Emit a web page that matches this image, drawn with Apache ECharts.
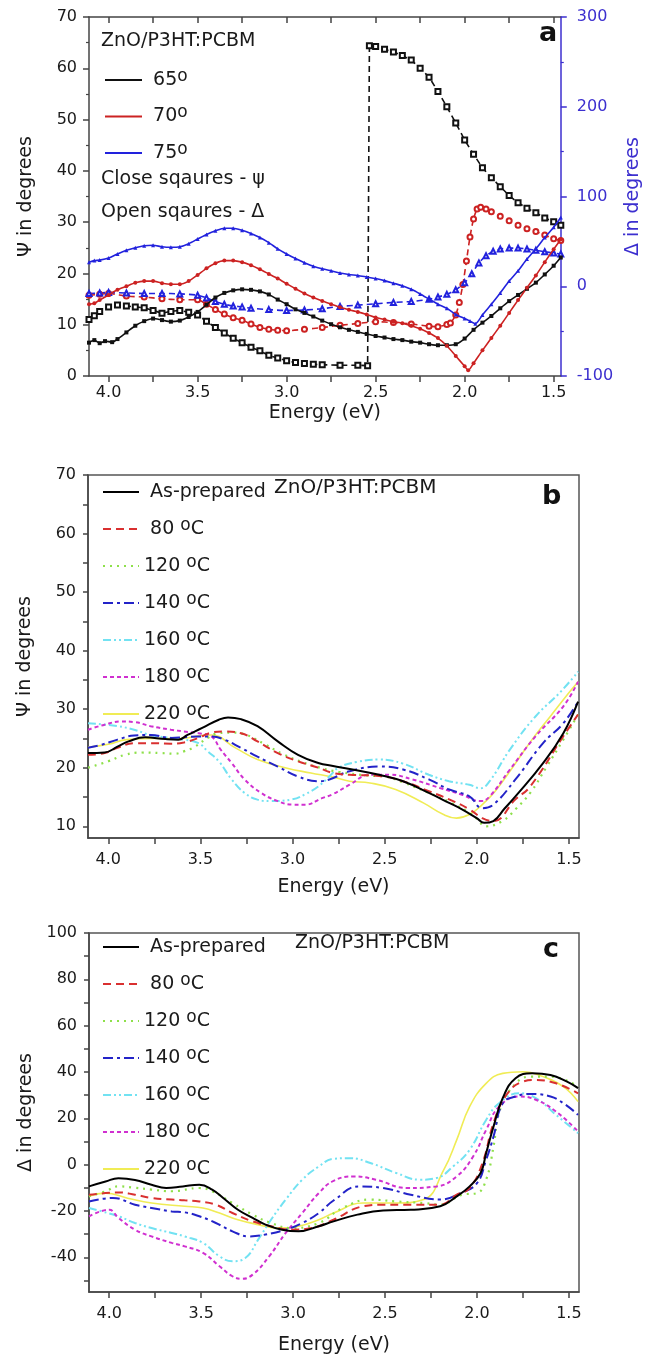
<!DOCTYPE html>
<html><head><meta charset="utf-8">
<script src="https://cdn.jsdelivr.net/npm/echarts@6/dist/echarts.min.js"></script>
<style>html,body{margin:0;padding:0;background:#fff}#c{width:651px;height:1362px}</style>
</head><body><div id="c"></div>
<script>
// ---------- tick labels ----------
const eLabels = [1.5, 2.0, 2.5, 3.0, 3.5, 4.0];
const eTicks = [1.5, 1.75, 2.0, 2.25, 2.5, 2.75, 3.0, 3.25, 3.5, 3.75, 4.0];
const bLabels = [10, 20, 30, 40, 50, 60, 70];
const bTicks = [10, 15, 20, 25, 30, 35, 40, 45, 50, 55, 60, 65, 70];
const cLabels = [-40, -20, 0, 20, 40, 60, 80, 100];
const cTicks = [-50, -40, -30, -20, -10, 0, 10, 20, 30, 40, 50, 60, 70, 80, 90, 100];

// ---------- panel a : angles ----------
const anglesA = ['65', '70', '75'];
const psi65 = [[4.11,6.5],[4.08,7.0],[4.05,6.4],[4.02,6.8],[3.98,6.6],[3.95,7.2],[3.9,8.5],[3.85,9.8],[3.8,10.7],[3.75,11.2],[3.7,10.9],[3.65,10.6],[3.6,10.8],[3.55,11.5],[3.5,12.5],[3.45,13.9],[3.4,15.3],[3.35,16.2],[3.3,16.7],[3.25,16.9],[3.2,16.8],[3.15,16.5],[3.1,15.9],[3.05,14.9],[3.0,14.0],[2.95,13.0],[2.9,12.3],[2.85,11.6],[2.8,10.8],[2.75,10.1],[2.7,9.5],[2.65,9.0],[2.6,8.6],[2.55,8.2],[2.5,7.8],[2.45,7.5],[2.4,7.2],[2.35,7.0],[2.3,6.7],[2.25,6.5],[2.2,6.2],[2.15,6.0],[2.1,6.0],[2.05,6.2],[2.0,7.3],[1.95,9.0],[1.9,10.4],[1.85,11.7],[1.8,13.2],[1.75,14.6],[1.7,15.8],[1.65,17.0],[1.6,18.2],[1.55,19.8],[1.5,21.5],[1.46,23.1]];
const psi70 = [[4.11,14.0],[4.08,14.2],[4.05,14.8],[4.0,15.8],[3.95,16.8],[3.9,17.5],[3.85,18.2],[3.8,18.5],[3.75,18.5],[3.7,18.1],[3.65,17.9],[3.6,17.9],[3.55,18.5],[3.5,19.7],[3.45,21.0],[3.4,22.0],[3.35,22.5],[3.3,22.5],[3.25,22.2],[3.2,21.6],[3.15,20.8],[3.1,19.9],[3.05,19.0],[3.0,18.0],[2.95,17.0],[2.9,16.1],[2.85,15.3],[2.8,14.6],[2.75,14.0],[2.7,13.4],[2.65,12.9],[2.6,12.5],[2.55,12.0],[2.5,11.4],[2.45,11.0],[2.4,10.6],[2.35,10.3],[2.3,9.8],[2.25,9.2],[2.2,8.4],[2.15,7.4],[2.1,5.9],[2.05,3.9],[2.0,1.9],[1.98,1.1],[1.95,2.5],[1.9,5.0],[1.85,7.4],[1.8,9.8],[1.75,12.3],[1.7,14.8],[1.65,17.2],[1.6,19.6],[1.55,22.2],[1.5,24.7],[1.46,26.6]];
const psi75 = [[4.11,22.2],[4.08,22.5],[4.05,22.6],[4.0,23.0],[3.95,23.8],[3.9,24.5],[3.85,25.0],[3.8,25.4],[3.75,25.5],[3.7,25.2],[3.65,25.1],[3.6,25.2],[3.55,25.8],[3.5,26.7],[3.45,27.6],[3.4,28.3],[3.35,28.8],[3.3,28.8],[3.25,28.4],[3.2,27.8],[3.15,27.0],[3.1,26.0],[3.05,24.8],[3.0,23.8],[2.95,22.9],[2.9,22.1],[2.85,21.4],[2.8,20.9],[2.75,20.5],[2.7,20.1],[2.65,19.8],[2.6,19.6],[2.55,19.3],[2.5,19.0],[2.45,18.6],[2.4,18.1],[2.35,17.6],[2.3,16.9],[2.25,16.0],[2.2,15.0],[2.15,14.0],[2.1,13.2],[2.05,12.0],[2.0,11.2],[1.97,10.7],[1.94,10.2],[1.9,11.9],[1.85,14.0],[1.8,16.2],[1.75,18.5],[1.7,20.5],[1.65,22.8],[1.6,24.8],[1.55,27.0],[1.5,29.0],[1.46,30.9]];
const delta65 = [[4.11,-37],[4.08,-33],[4.05,-28],[4.0,-23],[3.95,-21],[3.9,-22],[3.85,-23],[3.8,-24],[3.75,-27],[3.7,-30],[3.65,-28],[3.6,-27],[3.55,-29],[3.5,-32],[3.45,-39],[3.4,-46],[3.35,-52],[3.3,-58],[3.25,-63],[3.2,-68],[3.15,-72],[3.1,-77],[3.05,-80],[3.0,-83],[2.95,-85],[2.9,-86],[2.85,-87],[2.8,-87.5],[2.7,-88],[2.6,-88],[2.545,-88.5],[2.535,268],[2.5,267],[2.45,264],[2.4,261],[2.35,257],[2.3,252],[2.25,243],[2.2,233],[2.15,217],[2.1,200],[2.05,182],[2.0,163],[1.95,147],[1.9,132],[1.85,121],[1.8,111],[1.75,101],[1.7,93],[1.65,87],[1.6,82],[1.55,76],[1.5,72],[1.46,68]];
const delta70 = [[4.11,-10],[4.05,-9],[4.0,-8],[3.9,-11],[3.8,-12],[3.7,-14],[3.6,-15],[3.5,-15],[3.45,-20],[3.4,-26],[3.35,-31],[3.3,-35],[3.25,-38],[3.2,-42],[3.15,-46],[3.1,-48],[3.05,-49],[3.0,-49.5],[2.9,-48],[2.8,-46],[2.7,-43.5],[2.6,-41.5],[2.5,-39.5],[2.4,-40.5],[2.3,-42],[2.2,-44.5],[2.15,-45],[2.1,-42.5],[2.08,-41],[2.05,-32],[2.03,-18],[2.01,2],[1.99,28],[1.97,55],[1.95,75],[1.93,86],[1.91,88],[1.88,86],[1.85,83],[1.8,78],[1.75,73],[1.7,68],[1.65,64],[1.6,61],[1.55,57],[1.5,53],[1.46,51]];
const delta75 = [[4.11,-8],[4.05,-7.5],[4.0,-7],[3.9,-7.5],[3.8,-8],[3.7,-8],[3.6,-8.5],[3.5,-10],[3.45,-13],[3.4,-17],[3.35,-20],[3.3,-22],[3.25,-23],[3.2,-24.5],[3.1,-26],[3.0,-27],[2.9,-26.5],[2.8,-25],[2.7,-22.5],[2.6,-21],[2.5,-19.5],[2.4,-18],[2.3,-17],[2.2,-14.5],[2.15,-12],[2.1,-9],[2.05,-4],[2.0,4],[1.96,14],[1.92,26],[1.88,34],[1.84,39],[1.8,41.5],[1.75,42.5],[1.7,42.5],[1.65,41.5],[1.6,40],[1.55,38.5],[1.5,37],[1.46,36]];

// ---------- panels b, c : annealing temperature ----------
const temps = ['As-prepared', '80', '120', '140', '160', '180', '220'];
const bPsi = {
  'As-prepared': [[4.11,22.5],[4.02,22.6],[3.95,23.6],[3.89,24.5],[3.8,25.2],[3.69,24.9],[3.62,24.8],[3.57,25.6],[3.49,26.8],[3.4,28.2],[3.35,28.6],[3.28,28.3],[3.19,27.1],[3.08,24.5],[2.97,22.2],[2.86,20.8],[2.78,20.3],[2.69,19.8],[2.53,18.8],[2.4,17.7],[2.26,15.7],[2.15,14.0],[2.08,12.9],[2.0,11.4],[1.96,10.6],[1.91,10.9],[1.85,13.0],[1.79,15.1],[1.64,20.8],[1.53,25.9],[1.45,31.3]],
  '80': [[4.11,22.2],[4.02,22.5],[3.95,23.4],[3.86,24.2],[3.77,24.2],[3.66,24.1],[3.59,24.3],[3.51,25.1],[3.44,26.0],[3.37,26.2],[3.28,25.9],[3.19,24.5],[3.08,22.5],[2.97,21.1],[2.86,20.0],[2.78,19.1],[2.69,18.8],[2.53,18.6],[2.4,17.7],[2.26,16.0],[2.15,14.6],[2.04,12.9],[1.97,11.4],[1.91,10.9],[1.79,14.6],[1.71,16.8],[1.53,25.4],[1.45,29.1]],
  '120': [[4.11,20.0],[4.0,21.1],[3.91,22.2],[3.82,22.6],[3.71,22.5],[3.64,22.4],[3.59,22.8],[3.53,23.6],[3.46,25.1],[3.4,25.9],[3.33,26.0],[3.25,25.6],[3.15,24.0],[3.05,22.3],[2.95,21.0],[2.85,20.0],[2.75,19.3],[2.6,18.7],[2.5,18.5],[2.4,17.5],[2.26,15.7],[2.15,14.2],[2.05,12.5],[2.0,11.3],[1.95,10.0],[1.86,10.9],[1.79,12.9],[1.71,15.7],[1.62,20.2],[1.53,24.8],[1.45,29.1]],
  '140': [[4.11,23.4],[4.04,23.9],[3.95,24.8],[3.86,25.5],[3.77,25.6],[3.66,25.1],[3.59,25.2],[3.51,25.35],[3.44,25.35],[3.37,24.8],[3.28,23.4],[3.19,21.9],[3.08,20.2],[2.97,18.5],[2.86,17.7],[2.8,18.0],[2.69,19.4],[2.53,20.2],[2.4,19.7],[2.26,18.0],[2.15,16.3],[2.04,15.1],[1.97,13.1],[1.91,13.7],[1.79,18.0],[1.64,24.2],[1.53,27.6],[1.45,31.3]],
  '160': [[4.11,27.6],[3.95,27.1],[3.86,26.5],[3.77,25.6],[3.59,24.8],[3.51,24.2],[3.46,22.8],[3.4,21.1],[3.33,18.0],[3.26,15.7],[3.19,14.55],[3.12,14.3],[3.0,14.6],[2.93,15.5],[2.86,16.8],[2.8,18.5],[2.75,20.0],[2.65,21.0],[2.53,21.4],[2.4,20.7],[2.26,18.8],[2.15,17.7],[2.04,17.1],[1.98,16.5],[1.93,17.7],[1.82,23.1],[1.68,28.8],[1.55,32.8],[1.45,36.4]],
  '180': [[4.11,26.5],[4.02,27.35],[3.93,27.9],[3.86,27.8],[3.77,27.1],[3.66,26.5],[3.59,26.2],[3.51,25.9],[3.44,25.35],[3.39,23.1],[3.33,20.8],[3.26,18.0],[3.17,15.7],[3.08,14.3],[3.0,13.7],[2.93,13.7],[2.84,14.8],[2.78,15.5],[2.69,17.1],[2.58,18.8],[2.47,18.8],[2.35,18.0],[2.2,16.55],[2.08,15.4],[1.98,14.3],[1.93,15.1],[1.82,19.7],[1.68,25.4],[1.53,30.5],[1.45,34.7]],
  '220': [[4.11,23.5],[4.0,24.0],[3.9,24.8],[3.75,25.0],[3.6,25.0],[3.5,25.5],[3.44,25.6],[3.31,23.4],[3.19,21.4],[3.04,20.0],[2.9,19.1],[2.78,18.4],[2.69,17.7],[2.58,17.4],[2.44,16.3],[2.29,14.0],[2.18,12.0],[2.11,11.4],[2.04,12.0],[1.97,13.7],[1.9,16.0],[1.8,20.3],[1.7,24.8],[1.6,28.8],[1.5,32.8],[1.45,34.7]]
};
const cDelta = {
  'As-prepared': [[4.11,-9.4],[4.02,-7.3],[3.95,-5.9],[3.86,-6.6],[3.77,-8.7],[3.69,-10.1],[3.6,-9.4],[3.51,-8.7],[3.44,-10.8],[3.37,-15.1],[3.3,-19.5],[3.22,-23.0],[3.15,-25.9],[3.06,-28.1],[2.97,-28.8],[2.86,-26.6],[2.78,-24.5],[2.65,-21.6],[2.51,-19.8],[2.36,-19.5],[2.2,-18.0],[2.11,-13.7],[2.04,-9.4],[1.98,-3.6],[1.95,5.0],[1.91,16.4],[1.86,28.7],[1.79,37.3],[1.7,39.4],[1.6,38.7],[1.51,35.8],[1.45,33.0]],
  '80': [[4.11,-13.0],[4.02,-12.3],[3.95,-12.0],[3.86,-13.0],[3.77,-14.4],[3.66,-15.1],[3.59,-15.4],[3.51,-15.9],[3.42,-17.3],[3.33,-20.9],[3.22,-24.5],[3.12,-26.6],[3.01,-28.1],[2.9,-27.4],[2.78,-23.8],[2.62,-18.0],[2.51,-17.3],[2.36,-17.3],[2.2,-17.3],[2.11,-13.0],[2.04,-10.1],[1.97,0.7],[1.91,17.9],[1.84,30.1],[1.75,35.8],[1.68,36.5],[1.57,35.1],[1.45,30.8]],
  '120': [[4.11,-13.7],[4.02,-11.5],[3.95,-9.4],[3.86,-10.0],[3.77,-10.8],[3.66,-11.5],[3.51,-10.1],[3.44,-11.5],[3.33,-16.6],[3.22,-21.6],[3.12,-25.2],[3.01,-27.4],[2.86,-25.2],[2.73,-18.7],[2.58,-15.1],[2.44,-15.9],[2.29,-16.6],[2.2,-17.3],[2.08,-13.0],[2.0,-12.3],[1.95,-6.5],[1.91,7.8],[1.88,22.2],[1.82,32.2],[1.71,38.0],[1.6,38.0],[1.45,33.7]],
  '140': [[4.11,-15.9],[3.98,-14.4],[3.86,-17.3],[3.77,-18.7],[3.66,-20.2],[3.59,-20.6],[3.51,-22.3],[3.42,-25.2],[3.33,-28.8],[3.24,-31.0],[3.15,-30.2],[3.04,-28.1],[2.95,-25.2],[2.86,-20.9],[2.78,-15.5],[2.64,-9.4],[2.51,-10.1],[2.36,-13.0],[2.2,-15.1],[2.09,-12.3],[2.0,-8.0],[1.95,2.1],[1.91,12.1],[1.86,26.5],[1.79,29.4],[1.71,30.5],[1.6,29.4],[1.53,26.5],[1.45,21.5]],
  '160': [[4.11,-18.7],[4.04,-20.2],[3.95,-22.3],[3.86,-25.2],[3.77,-27.4],[3.66,-29.5],[3.59,-31.0],[3.49,-33.8],[3.4,-39.6],[3.33,-41.7],[3.26,-40.3],[3.19,-32.4],[3.12,-23.8],[3.04,-15.1],[2.95,-6.5],[2.86,-0.8],[2.78,2.5],[2.69,2.8],[2.58,0.7],[2.44,-3.6],[2.31,-6.5],[2.22,-5.8],[2.13,-0.8],[2.04,6.4],[1.95,19.3],[1.88,26.5],[1.77,30.8],[1.68,28.7],[1.57,21.5],[1.45,13.6]],
  '180': [[4.11,-22.3],[4.0,-19.5],[3.95,-23.0],[3.86,-28.1],[3.77,-31.0],[3.66,-33.8],[3.59,-35.3],[3.49,-38.1],[3.4,-43.9],[3.33,-48.2],[3.28,-49.3],[3.22,-47.5],[3.13,-39.6],[3.04,-29.5],[2.95,-20.9],[2.86,-12.3],[2.78,-7.0],[2.67,-5.1],[2.55,-6.5],[2.38,-10.1],[2.22,-9.4],[2.11,-5.1],[2.02,3.6],[1.95,15.0],[1.88,25.0],[1.77,29.4],[1.68,28.0],[1.57,22.9],[1.45,14.3]],
  '220': [[4.11,-13.7],[4.02,-12.3],[3.9,-14.5],[3.77,-16.6],[3.59,-18.0],[3.49,-18.7],[3.4,-20.9],[3.3,-23.8],[3.19,-25.9],[3.08,-27.4],[2.97,-26.6],[2.86,-23.8],[2.78,-20.9],[2.62,-16.6],[2.45,-16.6],[2.29,-15.1],[2.18,-2.2],[2.11,10.7],[2.04,25.0],[1.95,35.1],[1.86,39.4],[1.75,40.1],[1.64,38.0],[1.53,33.7],[1.45,27.2]]
};

// ---------- styles ----------
const FONT = 'DejaVu Sans';
const AX = '#444';
const BLUEAX = '#3c2fcf';
const TXT = '#1a1a1a';
const aStyle = {
  '65': {color: '#111111', psiSym: 'rect', dSym: 'emptyRect'},
  '70': {color: '#cc2222', psiSym: 'circle', dSym: 'emptyCircle'},
  '75': {color: '#2222dd', psiSym: 'triangle', dSym: 'emptyTriangle'}
};
const tStyle = {
  'As-prepared': {color: '#000000', width: 2, type: 'solid'},
  '80':  {color: '#d93030', width: 2, type: [8, 5]},
  '120': {color: '#8ee04a', width: 2.2, type: [2, 5]},
  '140': {color: '#2323c8', width: 2, type: [10, 4, 3, 4]},
  '160': {color: '#72e2f2', width: 2, type: [8, 3, 2, 3, 2, 3]},
  '180': {color: '#d030d0', width: 2, type: [4, 3]},
  '220': {color: '#f0ec55', width: 1.6, type: 'solid'}
};
const psiA = {'65': psi65, '70': psi70, '75': psi75};
const deltaA = {'65': delta65, '70': delta70, '75': delta75};

function xAxisE(grid, min, max, extra) {
  return Object.assign({
    gridIndex: grid, type: 'value', inverse: true, min: min, max: max, position: 'bottom',
    axisLine: {show: true, onZero: false, lineStyle: {color: AX, width: 1.5}},
    axisTick: {show: true, customValues: eTicks, length: 6, lineStyle: {color: AX, width: 1.5}},
    axisLabel: {customValues: eLabels, formatter: v => v.toFixed(1), fontSize: 16, fontFamily: FONT, color: TXT, margin: 9},
    splitLine: {show: false},
    name: 'Energy (eV)', nameLocation: 'middle', nameGap: 28,
    nameTextStyle: {fontSize: 19, fontFamily: FONT, color: TXT}
  }, extra || {});
}
function yName(t, gap, color) {
  return {name: t, nameLocation: 'middle', nameGap: gap, nameTextStyle: {fontSize: 19, fontFamily: FONT, color: color || TXT}};
}

const xAxes = [
  xAxisE(0, 1.46, 4.11),
  {gridIndex: 0, type: 'value', inverse: true, min: 1.46, max: 4.11, position: 'top',
   axisLine: {show: true, onZero: false, lineStyle: {color: AX, width: 1.5}},
   axisTick: {show: true, inside: true, customValues: eTicks, length: 6, lineStyle: {color: AX, width: 1.5}},
   axisLabel: {show: false}, splitLine: {show: false}},
  xAxisE(1, 1.445, 4.11, {nameGap: 40, axisLabel: {customValues: eLabels, formatter: v => v.toFixed(1), fontSize: 16, fontFamily: FONT, color: TXT, margin: 14}}),
  xAxisE(2, 1.445, 4.11, {nameGap: 44, axisLabel: {customValues: eLabels, formatter: v => v.toFixed(1), fontSize: 16, fontFamily: FONT, color: TXT, margin: 14}})
];

const yAxes = [
  Object.assign({gridIndex: 0, type: 'value', min: 0, max: 70, interval: 10, position: 'left',
   axisLine: {show: true, onZero: false, lineStyle: {color: AX, width: 1.5}},
   axisTick: {show: true, length: 6, lineStyle: {color: AX, width: 1.5}},
   minorTick: {show: true, splitNumber: 2, length: 3, lineStyle: {color: AX, width: 1.2}},
   axisLabel: {fontSize: 16, fontFamily: FONT, color: TXT, margin: 12},
   splitLine: {show: false}, minorSplitLine: {show: false}}, yName('Ψ in degrees', 53)),
  Object.assign({gridIndex: 0, type: 'value', min: -100, max: 300, interval: 100, position: 'right',
   axisLine: {show: true, onZero: false, lineStyle: {color: BLUEAX, width: 1.5}},
   axisTick: {show: true, length: 6, lineStyle: {color: BLUEAX, width: 1.5}},
   minorTick: {show: true, splitNumber: 2, length: 3, lineStyle: {color: BLUEAX, width: 1.2}},
   axisLabel: {fontSize: 16, fontFamily: FONT, color: BLUEAX, margin: 16},
   splitLine: {show: false}, minorSplitLine: {show: false}}, yName('Δ in degrees', 47, BLUEAX)),
  Object.assign({gridIndex: 1, type: 'value', min: 8, max: 70, position: 'left',
   axisLine: {show: true, onZero: false, lineStyle: {color: AX, width: 1.5}},
   axisTick: {show: true, customValues: bTicks, length: 5, lineStyle: {color: AX, width: 1.5}},
   axisLabel: {customValues: bLabels, fontSize: 16, fontFamily: FONT, color: TXT, margin: 12},
   splitLine: {show: false}}, yName('Ψ in degrees', 53)),
  Object.assign({gridIndex: 2, type: 'value', min: -55, max: 100, position: 'left',
   axisLine: {show: true, onZero: false, lineStyle: {color: AX, width: 1.5}},
   axisTick: {show: true, customValues: cTicks, length: 5, lineStyle: {color: AX, width: 1.5}},
   axisLabel: {customValues: cLabels, fontSize: 16, fontFamily: FONT, color: TXT, margin: 12},
   splitLine: {show: false}}, yName('Δ in degrees', 53))
];

const series = [];
anglesA.forEach(a => {
  const s = aStyle[a];
  series.push({
    name: 'd' + a, type: 'line', xAxisIndex: 0, yAxisIndex: 1, data: deltaA[a],
    smooth: a === '65' ? false : 0.25, symbol: s.dSym, symbolSize: 5, showSymbol: true,
    lineStyle: {color: s.color, width: 1.6, type: [6, 4]},
    itemStyle: {color: s.color, borderColor: s.color, borderWidth: 1}, z: 2
  });
});
anglesA.forEach(a => {
  const s = aStyle[a];
  series.push({
    name: a, type: 'line', xAxisIndex: 0, yAxisIndex: 0, data: psiA[a],
    smooth: 0.25, symbol: s.psiSym, symbolSize: 4, showSymbol: true,
    lineStyle: {color: s.color, width: 1.6},
    itemStyle: {color: s.color}, z: 3
  });
});
const drawOrder = ['220', '160', '180', '120', '140', '80', 'As-prepared'];
[[2, 2, bPsi], [3, 3, cDelta]].forEach(([xi, yi, set]) => {
  drawOrder.forEach(t => {
    const st = tStyle[t];
    series.push({
      name: t, type: 'line', xAxisIndex: xi, yAxisIndex: yi, data: set[t],
      smooth: 0.45, symbol: 'none',
      lineStyle: {color: st.color, width: st.width, type: st.type},
      itemStyle: {color: st.color}
    });
  });
});

const rich = {
  n: {fontSize: 19, fontFamily: FONT, color: TXT, lineHeight: 24},
  s: {fontSize: 17, fontFamily: FONT, color: TXT, lineHeight: 9, verticalAlign: 'top'}
};
function tempLabel(name) {
  if (name === 'As-prepared') return '{n| As-prepared}';
  return '{n|' + (name === '80' ? ' 80' : name) + ' }{s|o}{n|C}';
}
function legendT(top) {
  return {
    orient: 'vertical', left: 97, top: top, itemWidth: 36, itemHeight: 14, itemGap: 13,
    data: temps, selectedMode: false, formatter: tempLabel,
    itemStyle: {opacity: 0, borderWidth: 0},
    textStyle: {fontSize: 19, fontFamily: FONT, color: TXT, lineHeight: 24, rich: rich}
  };
}

const option = {
  animation: false,
  backgroundColor: '#ffffff',
  grid: [
    {left: 89, top: 17, width: 486, height: 359},
    {left: 88, top: 475, width: 491, height: 363, show: true, borderColor: '#555', borderWidth: 1.5},
    {left: 89, top: 933, width: 490, height: 359, show: true, borderColor: '#555', borderWidth: 1.5}
  ],
  xAxis: xAxes,
  yAxis: yAxes,
  legend: [
    {orient: 'vertical', left: 100, top: 63, itemWidth: 37, itemHeight: 2, itemGap: 12.5, icon: 'rect',
     data: anglesA, selectedMode: false, formatter: n => ' {n|' + n + '}{s|o}',
     textStyle: {fontSize: 19, fontFamily: FONT, color: TXT, lineHeight: 24, rich: rich}},
    legendT(475),
    legendT(930)
  ],
  graphic: [
    {type: 'text', left: 101, top: 32, style: {text: 'ZnO/P3HT:PCBM', font: '19px "DejaVu Sans"', fill: TXT}},
    {type: 'text', left: 101, top: 170, style: {text: 'Close sqaures - ψ', font: '19px "DejaVu Sans"', fill: TXT}},
    {type: 'text', left: 101, top: 203, style: {text: 'Open sqaures - Δ', font: '19px "DejaVu Sans"', fill: TXT}},
    {type: 'text', left: 539, top: 20, style: {text: 'a', font: 'bold 27px "DejaVu Sans"', fill: '#111'}},
    {type: 'text', left: 274, top: 478, style: {text: 'ZnO/P3HT:PCBM', font: '20px "DejaVu Sans"', fill: TXT}},
    {type: 'text', left: 542, top: 483, style: {text: 'b', font: 'bold 27px "DejaVu Sans"', fill: '#111'}},
    {type: 'text', left: 295, top: 934, style: {text: 'ZnO/P3HT:PCBM', font: '19px "DejaVu Sans"', fill: TXT}},
    {type: 'text', left: 543, top: 936, style: {text: 'c', font: 'bold 27px "DejaVu Sans"', fill: '#111'}}
  ],
  series: series
};
const chart = echarts.init(document.getElementById('c'));
chart.setOption(option);
</script></body></html>
